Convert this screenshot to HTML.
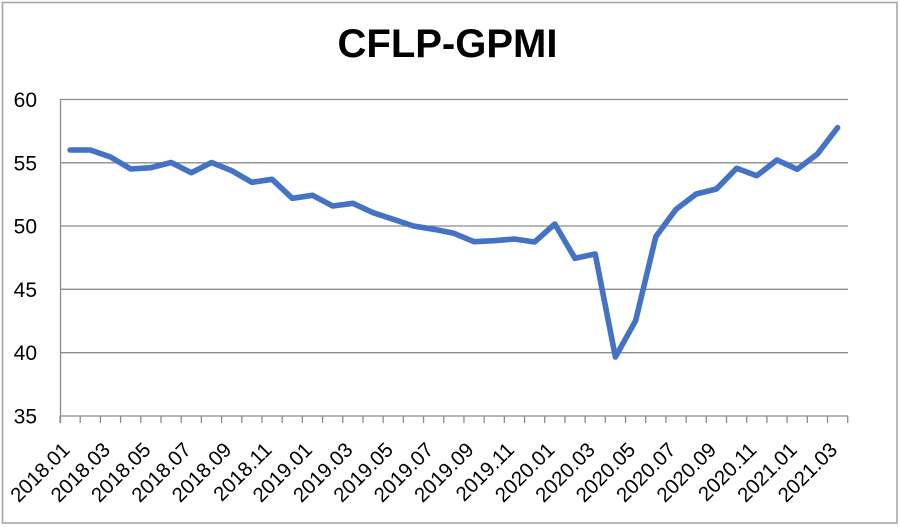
<!DOCTYPE html>
<html>
<head>
<meta charset="utf-8">
<style>
html,body{margin:0;padding:0;background:#fff;}
svg{display:block;}
</style>
</head>
<body>
<svg width="900" height="527" viewBox="0 0 900 527" xmlns="http://www.w3.org/2000/svg">
<rect x="0" y="0" width="900" height="527" fill="#fff"/>
<rect x="2.5" y="2.5" width="894.5" height="520.5" fill="none" stroke="#a6a6a6" stroke-width="1.6"/>
<text x="447.5" y="57" text-anchor="middle" font-family="Liberation Sans, sans-serif" font-weight="bold" font-size="40" fill="#000">CFLP-GPMI</text>
<g stroke="#8c8c8c" stroke-width="1.3" fill="none">
<line x1="60" y1="99.5" x2="848" y2="99.5"/>
<line x1="60" y1="162.8" x2="848" y2="162.8"/>
<line x1="60" y1="226" x2="848" y2="226"/>
<line x1="60" y1="289.3" x2="848" y2="289.3"/>
<line x1="60" y1="352.7" x2="848" y2="352.7"/>
<line x1="60" y1="416" x2="848" y2="416"/>
<line x1="60.5" y1="99" x2="60.5" y2="423"/>
</g>
<g stroke="#8c8c8c" stroke-width="1.3" id="ticks"></g>
<g font-family="Liberation Sans, sans-serif" font-size="21" fill="#000" text-anchor="end">
<text x="37" y="107">60</text>
<text x="37" y="170.3">55</text>
<text x="37" y="233.5">50</text>
<text x="37" y="296.8">45</text>
<text x="37" y="360.2">40</text>
<text x="37" y="423.5">35</text>
</g>
<g id="xl" font-family="Liberation Sans, sans-serif" font-size="20.5" fill="#000" text-anchor="end"></g>
<polyline id="ln" fill="none" stroke="#4472C4" stroke-width="5.6" stroke-linejoin="round" stroke-linecap="round" points=""/>
</svg>
<script>
(function(){
var ns="http://www.w3.org/2000/svg";
var w=787.7/39;
var t=document.getElementById("ticks");
for(var i=0;i<=39;i++){var x=60+w*i;var l=document.createElementNS(ns,"line");l.setAttribute("x1",x);l.setAttribute("x2",x);l.setAttribute("y1",416);l.setAttribute("y2",423);t.appendChild(l);}
var ys=[150,150,157,169,167.7,162.5,172.7,162.5,170.7,182.3,179.3,198.3,195.3,206,203.3,212.7,219.3,226,229.3,233.3,241.7,240.7,239,242,224,258.3,254,357,320.7,236.7,209.3,194,189,168.3,175.7,160,169.3,154,127.7];
var pts=[];
for(var i=0;i<39;i++){pts.push((60+w*(i+0.5)).toFixed(1)+","+ys[i]);}
document.getElementById("ln").setAttribute("points",pts.join(" "));
var labs=["2018.01","2018.03","2018.05","2018.07","2018.09","2018.11","2019.01","2019.03","2019.05","2019.07","2019.09","2019.11","2020.01","2020.03","2020.05","2020.07","2020.09","2020.11","2021.01","2021.03"];
var g=document.getElementById("xl");
for(var k=0;k<labs.length;k++){var i=k*2;var x=60+w*(i+0.5)+1;var tx=document.createElementNS(ns,"text");tx.setAttribute("transform","translate("+x.toFixed(1)+",451) rotate(-45)");tx.textContent=labs[k];g.appendChild(tx);}
})();
</script>
</body>
</html>
